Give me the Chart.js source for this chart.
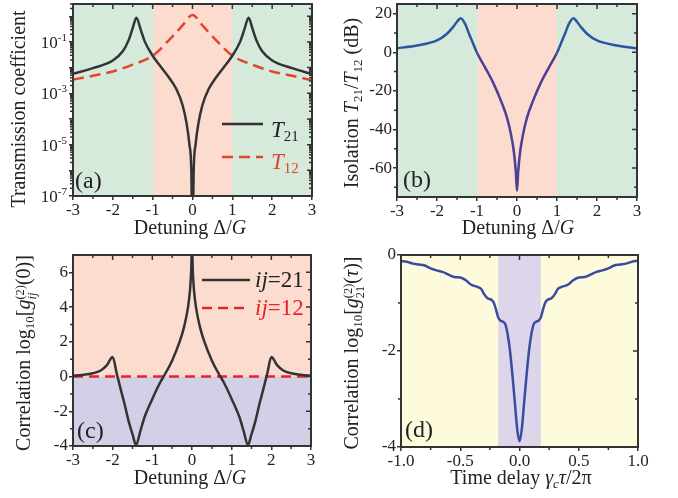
<!DOCTYPE html>
<html>
<head>
<meta charset="utf-8">
<script src="https://cdn.jsdelivr.net/npm/chart.js@4.4.1/dist/chart.umd.min.js"></script>
<style>
  html, body { margin: 0; padding: 0; background: #fff; }
  #fig { position: relative; width: 678px; height: 498px; overflow: hidden;
         font-family: "Liberation Serif", "Times New Roman", serif; color: #222; }
  canvas { position: absolute; }
  .t { position: absolute; white-space: nowrap; line-height: 1; }
  .xt { font-size: 20px; transform: translateX(-50%); }
  .yt { font-size: 20px; transform: translate(-50%, -50%) rotate(-90deg); }
  .leg { font-size: 23px; }
  .pl { font-size: 24px; }
  sub { font-size: 0.65em; vertical-align: -0.3em; line-height: 0; }
  .stk { display: inline-block; vertical-align: -0.45em; font-size: 0.62em; line-height: 0.95; }
  .stk > span { display: block; }
  .red { color: #e2452e; }
  .red2 { color: #e8242b; }
  svg { position: absolute; left: 0; top: 0; }
</style>
</head>
<body>
<div id="fig">
  <canvas id="pa" width="339" height="269" style="left:0;top:-20px"></canvas>
  <canvas id="pb" width="339" height="269" style="left:339px;top:-20px"></canvas>
  <canvas id="pc" width="339" height="263" style="left:0;top:235px"></canvas>
  <canvas id="pd" width="339" height="263" style="left:339px;top:235px"></canvas>

  <svg width="678" height="498">
    <line x1="222" y1="124" x2="263" y2="124" stroke="#333" stroke-width="2.5"/>
    <line x1="222" y1="157" x2="263" y2="157" stroke="#e2452e" stroke-width="2.5" stroke-dasharray="11 6"/>
    <line x1="202" y1="280" x2="250" y2="280" stroke="#333" stroke-width="2.5"/>
    <line x1="202" y1="308" x2="250" y2="308" stroke="#e8242b" stroke-width="2.5" stroke-dasharray="10 6"/>
  </svg>

  <div class="t yt" style="left:18px;top:109px">Transmission coefficient</div>
  <div class="t xt" style="left:190px;top:217px">Detuning Δ/<i>G</i></div>
  <div class="t yt" style="left:351px;top:103px">Isolation <i>T</i><sub>21</sub>/<i>T</i><sub>12</sub> (dB)</div>
  <div class="t xt" style="left:518px;top:217px">Detuning Δ/<i>G</i></div>
  <div class="t yt" style="left:26px;top:353px">Correlation log<sub>10</sub>[<i>g</i><span class="stk"><span>(2)</span><span><i>ij</i></span></span>(0)]</div>
  <div class="t xt" style="left:190px;top:467px">Detuning Δ/<i>G</i></div>
  <div class="t yt" style="left:354px;top:353px">Correlation log<sub>10</sub>[<i>g</i><span class="stk"><span>(2)</span><span>21</span></span>(<i>τ</i>)]</div>
  <div class="t xt" style="left:521px;top:467px">Time delay <i>γ</i><sub><i>c</i></sub><i>τ</i>/2π</div>

  <div class="t leg" style="left:271px;top:118px"><i>T</i><sub>21</sub></div>
  <div class="t leg red" style="left:271px;top:150px"><i>T</i><sub>12</sub></div>
  <div class="t leg" style="left:255px;top:268px"><i>ij</i>=21</div>
  <div class="t leg red2" style="left:255px;top:296px"><i>ij</i>=12</div>

  <div class="t pl" style="left:75px;top:168px">(a)</div>
  <div class="t pl" style="left:403px;top:167px">(b)</div>
  <div class="t pl" style="left:77px;top:418px">(c)</div>
  <div class="t pl" style="left:405px;top:417px">(d)</div>
</div>

<script>
// (a) transmission vs detuning
const detA21 = [-3, -2.5, -2, -1.75, -1.6, -1.5, -1.41, -1.3, -1.2, -1, -0.8, -0.6, -0.4, -0.25, -0.15, -0.08, -0.03, 0,
                0.03, 0.08, 0.15, 0.25, 0.4, 0.6, 0.8, 1, 1.2, 1.3, 1.41, 1.5, 1.6, 1.75, 2, 2.5, 3];
const trans21 = [5.8e-3, 9.5e-3, 1.9e-2, 4.3e-2, 0.12, 0.35, 0.87, 0.30, 0.105, 0.029, 0.011, 4.3e-3, 1.4e-3, 3.5e-4, 6.9e-5, 1.1e-5, 1.0e-6, 1e-9,
                 1.0e-6, 1.1e-5, 6.9e-5, 3.5e-4, 1.4e-3, 4.3e-3, 0.011, 0.029, 0.105, 0.30, 0.87, 0.35, 0.12, 4.3e-2, 1.9e-2, 9.5e-3, 5.6e-3];
const detA12 = [-3, -2.5, -2, -1.5, -1, -0.5, -0.25, 0, 0.25, 0.5, 1, 1.5, 2, 2.5, 3];
const trans12 = [3.4e-3, 4.8e-3, 7.1e-3, 1.3e-2, 2.9e-2, 0.166, 0.44, 1.12, 0.44, 0.166, 2.9e-2, 1.3e-2, 7.1e-3, 4.8e-3, 3.2e-3];

// (b) isolation in dB
const detB = [-3, -2.5, -2, -1.75, -1.6, -1.5, -1.41, -1.3, -1.2, -1.1, -1, -0.8, -0.6, -0.4, -0.25, -0.15, -0.08, -0.03, 0,
              0.03, 0.08, 0.15, 0.25, 0.4, 0.6, 0.8, 1, 1.1, 1.2, 1.3, 1.41, 1.5, 1.6, 1.75, 2, 2.5, 3];
const isoB = [2.1, 3.5, 6.1, 9.6, 13, 15.8, 17.6, 14.8, 9.6, 4.7, -0.3, -7.8, -15.6, -25.2, -33.9, -42.6, -51.3, -61.7, -71.8,
              -61.7, -51.3, -42.6, -33.9, -25.2, -15.6, -7.8, -0.3, 4.7, 9.6, 14.8, 17.6, 15.8, 13, 9.6, 6.1, 3.5, 2.0];

// (c) log10 g2(0)
const detC = [-3, -2.5, -2.3, -2.15, -2, -1.9, -1.8, -1.7, -1.6, -1.5, -1.41, -1.3, -1.2, -1, -0.8, -0.7, -0.5, -0.3, -0.2, -0.1, -0.05, -0.02, 0,
              0.02, 0.05, 0.1, 0.2, 0.3, 0.5, 0.7, 0.8, 1, 1.2, 1.3, 1.41, 1.5, 1.6, 1.7, 1.8, 1.9, 2, 2.15, 2.3, 2.5, 3];
const g21C = [0.04, 0.19, 0.35, 0.64, 1.12, 0.2, -0.71, -1.58, -2.55, -3.32, -3.94, -3.13, -2.36, -1.29, -0.33, 0.06, 0.93, 2.08, 2.86, 4.0, 4.98, 6.1, 7.6,
              6.1, 4.98, 4.0, 2.86, 2.08, 0.93, 0.06, -0.33, -1.29, -2.36, -3.13, -3.94, -3.32, -2.55, -1.58, -0.71, 0.2, 1.12, 0.64, 0.35, 0.19, 0.04];
const detC12 = [-3, 3];
const g12C = [0, 0];

// (d) log10 g21(tau)
const tauD = [-1, -0.95, -0.9, -0.85, -0.8, -0.75, -0.7, -0.65, -0.6, -0.55, -0.5, -0.45, -0.42, -0.4, -0.35, -0.32, -0.3, -0.27, -0.24, -0.22,
              -0.2, -0.18, -0.16, -0.14, -0.12, -0.1, -0.08, -0.06, -0.04, -0.02, 0,
              0.02, 0.04, 0.06, 0.08, 0.1, 0.12, 0.14, 0.16, 0.18, 0.2,
              0.22, 0.24, 0.27, 0.3, 0.32, 0.35, 0.4, 0.42, 0.45, 0.5, 0.55, 0.6, 0.65, 0.7, 0.75, 0.8, 0.85, 0.9, 0.95, 1];
const g2D = [-0.13, -0.14, -0.18, -0.2, -0.22, -0.28, -0.32, -0.35, -0.41, -0.46, -0.47, -0.53, -0.6, -0.63, -0.67, -0.72, -0.81, -0.9, -0.93, -0.98,
             -1.12, -1.3, -1.37, -1.39, -1.44, -1.65, -2.0, -2.49, -3.05, -3.61, -3.88,
             -3.61, -3.05, -2.49, -2.0, -1.65, -1.44, -1.39, -1.37, -1.3, -1.12,
             -0.98, -0.93, -0.9, -0.81, -0.72, -0.67, -0.63, -0.6, -0.53, -0.47, -0.46, -0.41, -0.35, -0.32, -0.28, -0.22, -0.2, -0.18, -0.14, -0.12];

// tick values and labels
const xTicksDet = [-3, -2, -1, 0, 1, 2, 3];
const xLabelsDet = ['-3', '-2', '-1', '0', '1', '2', '3'];
const xMinorDet = [-2.5, -1.5, -0.5, 0.5, 1.5, 2.5];
const yDecadesA = [-7, -6, -5, -4, -3, -2, -1, 0];
const yLabelExpA = [-7, -5, -3, -1];
const yTicksB = [-60, -40, -20, 0, 20];
const yLabelsB = ['-60', '-40', '-20', '0', '20'];
const yMinorB = [-70, -50, -30, -10, 10];
const yTicksC = [-4, -2, 0, 2, 4, 6];
const yLabelsC = ['-4', '-2', '0', '2', '4', '6'];
const yMinorC = [-3, -1, 1, 3, 5];
const xTicksD = [-1, -0.5, 0, 0.5, 1];
const xLabelsD = ['-1.0', '-0.5', '0.0', '0.5', '1.0'];
const xMinorD = [-0.75, -0.25, 0.25, 0.75];
const yTicksD = [-4, -2, 0];
const yLabelsD = ['-4', '-2', '0'];
const yMinorD = [-3, -1];

const frameColor = '#333';
const green = '#d6eadc', pink = '#fcdccf', lavender = '#d2d0e7', cream = '#fefbdd', lilac = '#ddd6ea';

Chart.defaults.font.family = '"Liberation Serif", "Times New Roman", serif';
Chart.defaults.color = '#222';

const pts = (xs, ys) => xs.map((x, i) => ({ x, y: ys[i] }));

const decor = {
  id: 'decor',
  beforeDatasetsDraw(chart, args, o) {
    const { ctx, chartArea: a } = chart;
    const x = chart.scales.x, y = chart.scales.y;
    ctx.save();
    ctx.fillStyle = o.bg;
    ctx.fillRect(a.left, a.top, a.width, a.height);
    o.bands.forEach(b => {
      ctx.fillStyle = b.color;
      if (b.axis === 'x') {
        const p0 = Math.max(a.left, x.getPixelForValue(b.from));
        const p1 = Math.min(a.right, x.getPixelForValue(b.to));
        ctx.fillRect(p0, a.top, p1 - p0, a.height);
      } else {
        const p0 = Math.max(a.top, y.getPixelForValue(b.to));
        const p1 = Math.min(a.bottom, y.getPixelForValue(b.from));
        ctx.fillRect(a.left, p0, a.width, p1 - p0);
      }
    });
    ctx.restore();
  },
  afterDatasetsDraw(chart, args, o) {
    const { ctx, chartArea: a } = chart;
    const x = chart.scales.x, y = chart.scales.y;
    ctx.save();
    ctx.strokeStyle = frameColor;
    ctx.lineWidth = 1.5;
    ctx.beginPath();
    const seg = (x0, y0, x1, y1) => { ctx.moveTo(x0, y0); ctx.lineTo(x1, y1); };
    o.xMajor.forEach(v => { const p = x.getPixelForValue(v); seg(p, a.top, p, a.top + 5); });
    o.xMinor.forEach(v => { const p = x.getPixelForValue(v); seg(p, a.top, p, a.top + 3); seg(p, a.bottom, p, a.bottom + 3); });
    o.yMajor.forEach(v => { const p = y.getPixelForValue(v); seg(a.right, p, a.right - 5, p); });
    o.yMinor.forEach(v => { const p = y.getPixelForValue(v); seg(a.right, p, a.right - 3, p); seg(a.left, p, a.left - 3, p); });
    ctx.stroke();
    ctx.lineWidth = 2;
    ctx.strokeRect(a.left, a.top, a.width, a.height);
    if (o.logLabels) {
      ctx.fillStyle = '#222';
      ctx.textAlign = 'right';
      ctx.textBaseline = 'alphabetic';
      o.logLabels.forEach(e => {
        const p = y.getPixelForValue(Math.pow(10, e));
        const xr = a.left - 6;
        ctx.font = '11px "Liberation Serif"';
        const sup = String(e);
        const sw = ctx.measureText(sup).width;
        ctx.fillText(sup, xr, p - 1);
        ctx.font = '17px "Liberation Serif"';
        ctx.fillText('10', xr - sw, p + 6);
      });
    }
    ctx.restore();
  }
};

function linAxis(min, max, vals, labels, size, horiz) {
  return {
    type: 'linear', min, max,
    afterBuildTicks: s => { s.ticks = vals.map(v => ({ value: v })); },
    afterFit: s => { if (horiz) s.height = size; else s.width = size; },
    ticks: { callback: (v, i) => labels[i], font: { size: 17 }, color: '#222', padding: horiz ? 0 : 1,
             maxRotation: 0, minRotation: 0, autoSkip: false },
    grid: { drawOnChartArea: false, tickLength: 4, color: frameColor, lineWidth: 1.5 },
    border: { display: false }
  };
}

function panel(id, pad, xCfg, yCfg, datasets, decorOpts) {
  return new Chart(document.getElementById(id), {
    type: 'line',
    data: { datasets },
    options: {
      responsive: false, animation: false, devicePixelRatio: 1,
      layout: { padding: pad },
      elements: { point: { radius: 0 }, line: { borderWidth: 2.5, cubicInterpolationMode: 'monotone' } },
      plugins: { legend: { display: false }, tooltip: { enabled: false }, decor: decorOpts },
      scales: { x: xCfg, y: yCfg }
    },
    plugins: [decor]
  });
}

// (a)
const minorA = [];
yDecadesA.forEach(e => { for (let k = 2; k <= 9; k++) { const v = k * Math.pow(10, e); if (v <= 3) minorA.push(v); } });
panel('pa', { top: 24, right: 27, left: 0, bottom: 0 },
  linAxis(-3, 3, xTicksDet, xLabelsDet, 53, true),
  {
    type: 'logarithmic', min: 1e-7, max: 3,
    afterBuildTicks: s => { s.ticks = yDecadesA.map(e => ({ value: Math.pow(10, e) })); },
    afterFit: s => { s.width = 73; },
    ticks: { callback: () => '', autoSkip: false },
    grid: { drawOnChartArea: false, tickLength: 4, color: frameColor, lineWidth: 1.5 },
    border: { display: false }
  },
  [
    { data: pts(detA21, trans21), borderColor: '#333333' },
    { data: pts(detA12, trans12), borderColor: '#e2452e', borderDash: [11, 6] }
  ],
  { bg: green, bands: [{ axis: 'x', from: -0.985, to: 1, color: pink }],
    xMajor: xTicksDet, xMinor: xMinorDet, yMajor: yDecadesA.map(e => Math.pow(10, e)), yMinor: minorA, logLabels: yLabelExpA });

// (b)
panel('pb', { top: 24, right: 41, left: 0, bottom: 0 },
  linAxis(-3, 3, xTicksDet, xLabelsDet, 52, true),
  linAxis(-75, 25, yTicksB, yLabelsB, 58, false),
  [
    { data: pts(detB, isoB), borderColor: '#2b55a3',
      segment: { borderColor: c => Math.abs((c.p0.parsed.x + c.p1.parsed.x) / 2) < 1 ? '#4d3f94' : '#2b55a3' } }
  ],
  { bg: green, bands: [{ axis: 'x', from: -0.985, to: 1, color: pink }],
    xMajor: xTicksDet, xMinor: xMinorDet, yMajor: yTicksB, yMinor: yMinorB });

// (c)
panel('pc', { top: 20, right: 28, left: 0, bottom: 0 },
  linAxis(-3, 3, xTicksDet, xLabelsDet, 52, true),
  linAxis(-4, 7, yTicksC, yLabelsC, 73, false),
  [
    { data: pts(detC, g21C), borderColor: '#333333' },
    { data: pts(detC12, g12C), borderColor: '#e8242b', borderDash: [10, 6] }
  ],
  { bg: pink, bands: [{ axis: 'y', from: -4, to: 0, color: lavender }],
    xMajor: xTicksDet, xMinor: xMinorDet, yMajor: yTicksC, yMinor: yMinorC });

// (d)
panel('pd', { top: 20, right: 40, left: 0, bottom: 0 },
  linAxis(-1, 1, xTicksD, xLabelsD, 51, true),
  linAxis(-4, 0, yTicksD, yLabelsD, 62, false),
  [
    { data: pts(tauD, g2D), borderColor: '#3a4c9f' }
  ],
  { bg: cream, bands: [{ axis: 'x', from: -0.18, to: 0.18, color: lilac }],
    xMajor: xTicksD, xMinor: xMinorD, yMajor: yTicksD, yMinor: yMinorD });
</script>
</body>
</html>
